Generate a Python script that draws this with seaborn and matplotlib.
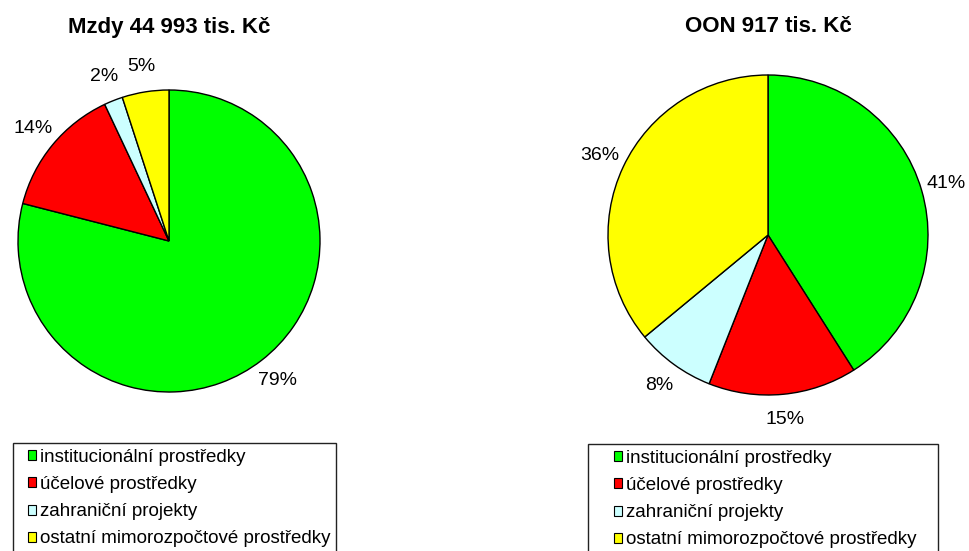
import matplotlib
matplotlib.use("Agg")
import matplotlib.pyplot as plt
from matplotlib.patches import Patch, Rectangle
import seaborn as sns

sns.set_theme(style="white")
plt.rcParams["font.family"] = ["Liberation Sans", "DejaVu Sans"]
plt.rcParams["text.color"] = "black"

categories = ["institucionální prostředky", "účelové prostředky",
              "zahraniční projekty", "ostatní mimorozpočtové prostředky"]
colors = ["#00FF00", "#FF0000", "#CCFFFF", "#FFFF00"]

mzdy_title = "Mzdy 44 993 tis. Kč"
mzdy_pct = [79, 14, 2, 5]

oon_title = "OON 917 tis. Kč"
oon_pct = [41, 15, 8, 36]

W, H = 970, 551
fig = plt.figure(figsize=(W / 100, H / 100), dpi=100)


def px_axes(cx, cy, r):
    # square axes centred at (cx, cy) pixel coords (y from top)
    return fig.add_axes([(cx - r) / W, (H - cy - r) / H, 2 * r / W, 2 * r / H])


def draw_pie(ax, values, pctdist):
    ax.pie(values, colors=colors, startangle=90, counterclock=False,
           autopct=lambda p: f"{p:.0f}%", pctdistance=pctdist,
           wedgeprops=dict(edgecolor="black", linewidth=1),
           textprops=dict(fontsize=14, color="black"))
    ax.set_xlim(-1, 1)
    ax.set_ylim(-1, 1)
    ax.set_aspect("equal")
    ax.axis("off")


def draw_legend(x0, y0, x1, xmark, ytop):
    fig.patches.append(Rectangle((x0 / W, 0 - 0.05), (x1 - x0) / W,
                                 (H - y0) / H + 0.05, transform=fig.transFigure,
                                 facecolor="white", edgecolor="#222222",
                                 linewidth=1, zorder=0))
    handles = [Patch(facecolor=c, edgecolor="black", linewidth=0.8) for c in colors]
    fig.legend(handles, categories, loc="upper left",
               bbox_to_anchor=(xmark / W, (H - ytop) / H),
               frameon=False, fontsize=13.5, borderpad=0, borderaxespad=0,
               handlelength=0.45, handleheight=0.45, handletextpad=0.2,
               labelspacing=0.54, labelcolor="black")


ax1 = px_axes(169, 241, 151)
draw_pie(ax1, mzdy_pct, 1.17)
ax2 = px_axes(768, 235, 160)
draw_pie(ax2, oon_pct, 1.16)

fig.text(169 / W, 1 - 28 / H, mzdy_title, ha="center", va="center",
         fontsize=16, fontweight="bold", color="black")
fig.text(768 / W, 1 - 26 / H, oon_title, ha="center", va="center",
         fontsize=16, fontweight="bold", color="black")

draw_legend(13, 443, 336, 28, 449)
draw_legend(588, 444, 938, 614, 450)

fig.savefig("out.png", dpi=100)
